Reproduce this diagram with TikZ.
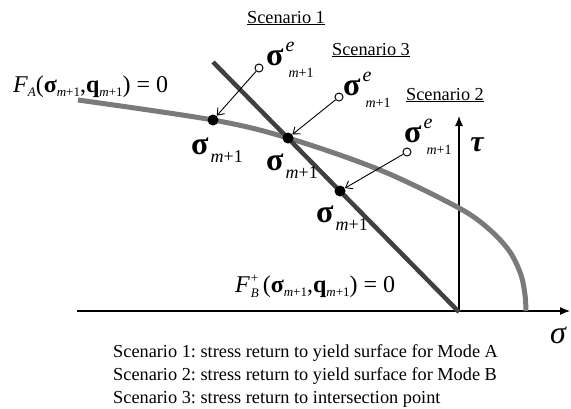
\documentclass[tikz,border=0pt]{standalone}
\usepackage{fontspec}
\setmainfont{Liberation Serif}
\usetikzlibrary{arrows.meta}
\frenchspacing
\newcommand{\fsz}[1]{\fontsize{#1}{#1}\selectfont}
\newcommand{\bsig}{{\bfseries σ}}
\newcommand{\lsub}[2]{\raisebox{#1}{\fsz{#2}\mdseries\itshape m\upshape +1}}
\newcommand{\sige}{\fsz{32}\bsig\rlap{\raisebox{14pt}{\hspace{2pt}\fsz{20}\mdseries\itshape e}}\hspace{5pt}\lsub{-12pt}{14}}
\newcommand{\sigm}{\fsz{32}\bsig\hspace{2pt}\lsub{-8pt}{18}}
\begin{document}
\begin{tikzpicture}[x=1pt,y=-1pt,
  dot/.style={circle,fill=black,inner sep=0pt,minimum size=11pt},
  odot/.style={circle,draw=black,fill=white,line width=1pt,inner sep=0pt,minimum size=8pt},
  ret/.style={-{Straight Barb[length=6pt,width=9pt]},line width=0.9pt},
  axis/.style={line width=1.1pt,-{Latex[length=10pt,width=8pt]}},
  lbl/.style={inner sep=0pt,anchor=base west},
  scen/.style={inner sep=0pt,anchor=base},
  curveA/.style={line width=5pt,color=black!52},
  lineB/.style={line width=4.5pt,color=black!75}]
\useasboundingbox (0,0) rectangle (571,408);
% axes
\coordinate (O) at (459,311);
\coordinate (xs) at (77,311);
\coordinate (xe) at (570,311);
\coordinate (yt) at (459,116);
\draw[axis] (xs) -- (xe);
\draw[axis] (O) -- (yt);
% yield surface A (curve)
\draw[curveA] plot[smooth,tension=0.55] coordinates {(78,100) (213,120) (288,138) (380,170) (459,208) (490,230) (510,252) (521,275) (525,295) (526,311)};
% yield surface B (line)
\coordinate (b1) at (213,62);
\coordinate (b2) at (459,312);
\draw[lineB] (b1) -- (b2);
% points
\node[dot] (d1) at (213,120) {};
\node[dot] (d2) at (288,138) {};
\node[dot] (d3) at (340,191) {};
\node[odot] (o1) at (259,68) {};
\node[odot] (o2) at (339,97) {};
\node[odot] (o3) at (407,152) {};
\draw[ret] (o1) -- (d1);
\draw[ret] (o2) -- (d2);
\draw[ret] (o3) -- (d3);
% labels
\node[lbl] (e1) at (266,65) {\sige};
\node[lbl] (e2) at (343,95) {\sige};
\node[lbl] (e3) at (404,142) {\sige};
\node[lbl] (s1) at (191,154) {\sigm};
\node[lbl] (s2) at (266,170) {\sigm};
\node[lbl] (s3) at (316,222) {\sigm};
\node[lbl] (fa) at (13,92) {\fsz{24}\itshape F\raisebox{-4pt}{\fsz{13}A}\upshape(\bsig\lsub{-4pt}{13},{\bfseries q}\lsub{-4pt}{13}) = 0};
\node[lbl] (fb) at (235,292) {\fsz{24}\itshape F\rlap{\raisebox{10pt}{\fsz{13}\upshape\hspace{1pt}+}}\raisebox{-5pt}{\fsz{13}\hspace{1pt}B}\hspace{4pt}\upshape(\bsig\lsub{-4pt}{13},{\bfseries q}\lsub{-4pt}{13}) = 0};
\node (tau) at (477,145) {\fsz{30}\bfseries\itshape τ};
\node (sig) at (558,335) {\fsz{32}\itshape σ};
\node[scen] (sc1) at (286,23) {\fsz{18.3}\underline{Scenario 1}};
\node[scen] (sc3) at (371,55) {\fsz{18.3}\underline{Scenario 3}};
\node[scen] (sc2) at (445,100) {\fsz{18.3}\underline{Scenario 2}};
\node[lbl] (c1) at (113,357) {\fsz{18.3}Scenario 1: stress return to yield surface for Mode A};
\node[lbl] (c2) at (113,380) {\fsz{18.3}Scenario 2: stress return to yield surface for Mode B};
\node[lbl] (c3) at (113,403) {\fsz{18.3}Scenario 3: stress return to intersection point};
\end{tikzpicture}
\end{document}
